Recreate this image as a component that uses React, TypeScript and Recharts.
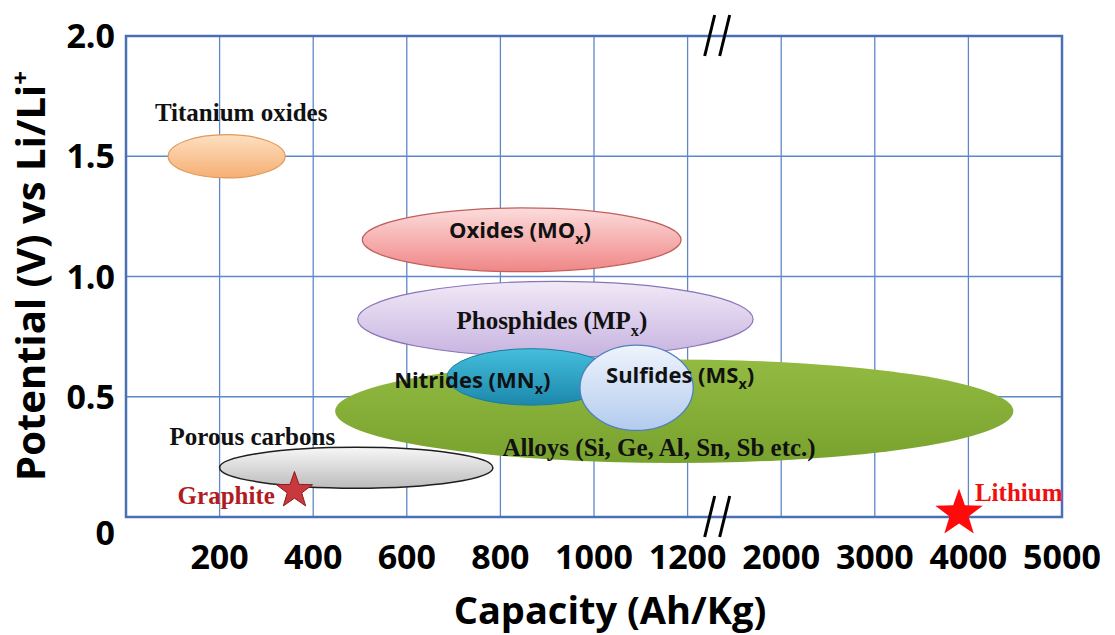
import React from "react";
import {
  ScatterChart,
  Scatter,
  XAxis,
  YAxis,
  CartesianGrid,
  ReferenceArea,
  ReferenceDot,
  Label
} from "recharts";

// axis ticks (capacity axis is broken after 1200)
const capacityTicks = [0, 200, 400, 600, 800, 1000, 1200, 2000, 3000, 4000, 5000];
const potentialTicks = [0, 0.5, 1.0, 1.5, 2.0];
const breakCapacity = 1440;

// material regions, drawn in this order
const regionNames = ["Titanium oxides", "Oxides", "Phosphides", "Alloys", "Porous carbons", "Nitrides", "Sulfides"];
const regionCapMin = [90, 505, 495, 447, 200, 686, 970];
const regionCapMax = [340, 1186, 1760, 4480, 784, 1045, 1248];
const regionVMin = [1.41, 1.02, 0.665, 0.225, 0.12, 0.465, 0.36];
const regionVMax = [1.59, 1.285, 0.98, 0.655, 0.29, 0.7, 0.715];

// reference electrodes
const starNames = ["Graphite", "Lithium"];
const starCap = [360, 3900];
const starV = [0.11, 0.015];

// text labels ("_" marks a subscript letter)
const labelTexts = [
  "Titanium oxides",
  "Porous carbons",
  "Graphite",
  "Lithium",
  "Oxides (MO_x)",
  "Phosphides (MP_x)",
  "Nitrides (MN_x)",
  "Sulfides (MS_x)",
  "Alloys (Si, Ge, Al, Sn, Sb etc.)"
];
const labelCap = [246, 270, 318, 4070, 842, 910, 740, 1184, 1139];
const labelV = [1.684, 0.337, 0.09, 0.104, 1.193, 0.819, 0.57, 0.59, 0.291];

const toPos = (cap: number) => {
  if (cap <= 1200) return cap / 200;
  if (cap <= 2000) return 6 + (cap - 1200) / 800;
  return 7 + (cap - 2000) / 1000;
};

const SANS = "'Open Sans', 'DejaVu Sans', sans-serif";
const SERIF = "'Liberation Serif', 'Times New Roman', serif";

const regionStyle: Record<string, any> = {
  "Titanium oxides": { top: "#fde0c2", bottom: "#f6ae72", stroke: "#e09a5a", sw: 1.2 },
  Oxides: { top: "#fcdcdc", bottom: "#f08686", stroke: "#c0605c", sw: 1.2 },
  Phosphides: { top: "#f1e9f7", bottom: "#c7b3e0", stroke: "#8a74b8", sw: 1.2 },
  Alloys: { top: "#93bb42", bottom: "#78a22e", stroke: "none", sw: 0 },
  "Porous carbons": { top: "#f7f7f7", bottom: "#bcbcbc", stroke: "#1e1e1e", sw: 1.5 },
  Nitrides: { top: "#45bedc", bottom: "#1c88ab", stroke: "#1b7da0", sw: 1 },
  Sulfides: { top: "#eef4fc", bottom: "#b3cbee", stroke: "#4f7fc0", sw: 1.3 }
};

const labelStyle: Record<string, any> = {
  "Titanium oxides": { font: SERIF, size: 25, color: "#111", anchor: "middle" },
  "Porous carbons": { font: SERIF, size: 25, color: "#111", anchor: "middle" },
  Graphite: { font: SERIF, size: 25, color: "#b01c22", anchor: "end" },
  Lithium: { font: SERIF, size: 25, color: "#f01010", anchor: "start" },
  "Oxides (MO_x)": { font: SANS, size: 22, color: "#111", anchor: "middle" },
  "Phosphides (MP_x)": { font: SERIF, size: 25, color: "#111", anchor: "middle" },
  "Nitrides (MN_x)": { font: SANS, size: 22, color: "#111", anchor: "middle" },
  "Sulfides (MS_x)": { font: SANS, size: 22, color: "#111", anchor: "middle" },
  "Alloys (Si, Ge, Al, Sn, Sb etc.)": { font: SERIF, size: 25, color: "#111", anchor: "middle" }
};

const starStyle: Record<string, any> = {
  Graphite: { r: 19, fill: "#c8383c", stroke: "#8e1b1e" },
  Lithium: { r: 25, fill: "#ff0a0a", stroke: "none" }
};

const regionData = regionNames.map((name, i) => ({
  name,
  x1: toPos(regionCapMin[i]),
  x2: toPos(regionCapMax[i]),
  y1: regionVMin[i],
  y2: regionVMax[i]
}));
const starData = starNames.map((name, i) => ({ name, x: toPos(starCap[i]), y: starV[i] }));
const labelData = labelTexts.map((text, i) => ({ text, x: toPos(labelCap[i]), y: labelV[i] }));

function EllipseShape(props: any) {
  const { x, y, width, height, name } = props;
  const st = regionStyle[name];
  const id = "grad-" + name.replace(/\s+/g, "-");
  return (
    <g>
      <defs>
        <linearGradient id={id} x1="0" y1="0" x2="0" y2="1">
          <stop offset="0" stopColor={st.top} />
          <stop offset="1" stopColor={st.bottom} />
        </linearGradient>
      </defs>
      <ellipse
        cx={x + width / 2}
        cy={y + height / 2}
        rx={width / 2}
        ry={height / 2}
        fill={`url(#${id})`}
        stroke={st.stroke}
        strokeWidth={st.sw}
      />
    </g>
  );
}

function StarShape(props: any) {
  const { cx, cy, payload } = props;
  const st = starStyle[payload.name];
  const pts: string[] = [];
  for (let k = 0; k < 10; k++) {
    const rr = k % 2 === 0 ? st.r : st.r * 0.4;
    const a = -Math.PI / 2 + (k * Math.PI) / 5;
    pts.push(`${cx + rr * Math.cos(a)},${cy + rr * Math.sin(a)}`);
  }
  return <polygon points={pts.join(" ")} fill={st.fill} stroke={st.stroke} strokeWidth={1} />;
}

function TextShape(props: any) {
  const { cx, cy, payload } = props;
  const st = labelStyle[payload.text];
  const parts = payload.text.split("_");
  const base = cy + st.size * 0.35;
  return (
    <text
      x={cx}
      y={base}
      textAnchor={st.anchor}
      fontFamily={st.font}
      fontWeight="bold"
      fontSize={st.size}
      fill={st.color}
    >
      {parts.length === 1 ? (
        parts[0]
      ) : (
        <>
          <tspan>{parts[0]}</tspan>
          <tspan fontSize={st.size * 0.65} dy={st.size * 0.3}>
            {parts[1].charAt(0)}
          </tspan>
          <tspan dy={-st.size * 0.3}>{parts[1].slice(1)}</tspan>
        </>
      )}
    </text>
  );
}

function BreakMark(props: any) {
  const { cx, cy } = props;
  return (
    <g stroke="#000" strokeWidth={3}>
      <line x1={cx - 11} y1={cy + 20} x2={cx - 1} y2={cy - 21} />
      <line x1={cx + 4} y1={cy + 20} x2={cx + 14} y2={cy - 21} />
    </g>
  );
}

function XTick(props: any) {
  const { x, y, index } = props;
  const v = capacityTicks[index];
  if (!v) return null;
  return (
    <text x={x} y={y + 52} textAnchor="middle" fontFamily={SANS} fontWeight="bold" fontSize={34} fill="#000">
      {v}
    </text>
  );
}

function YTick(props: any) {
  const { x, y, payload } = props;
  const v = payload.value;
  const txt = v === 0 ? "0" : v.toFixed(1);
  return (
    <text
      x={x - 11}
      y={y + 12 + (v === 0 ? 16 : 0)}
      textAnchor="end"
      fontFamily={SANS}
      fontWeight="bold"
      fontSize={34}
      fill="#000"
    >
      {txt}
    </text>
  );
}

export default function App() {
  return (
    <div style={{ position: "absolute", left: 0, top: 0, background: "#fff" }}>
      <ScatterChart width={1115} height={635} margin={{ top: 36, right: 53, bottom: 18, left: 26 }}>
        <CartesianGrid stroke="#5f88c9" strokeWidth={1.3} />
        <XAxis
          type="number"
          dataKey="x"
          domain={[0, 10]}
          ticks={capacityTicks.map(toPos)}
          height={100}
          axisLine={false}
          tickLine={false}
          tickSize={0}
          tickMargin={0}
          tick={<XTick />}
          interval={0}
        >
          <Label
            content={(p: any) => (
              <text
                x={p.viewBox.x + p.viewBox.width / 2 + 16}
                y={p.viewBox.y + 107}
                textAnchor="middle"
                fontFamily={SANS}
                fontWeight="bold"
                fontSize={38}
                fill="#000"
              >
                Capacity (Ah/Kg)
              </text>
            )}
          />
        </XAxis>
        <YAxis
          type="number"
          dataKey="y"
          domain={[0, 2]}
          ticks={potentialTicks}
          width={100}
          axisLine={false}
          tickLine={false}
          tickSize={0}
          tickMargin={0}
          tick={<YTick />}
          interval={0}
        >
          <Label
            content={() => {
              const cx = 45;
              const cy = 276;
              return (
                <text
                  x={cx}
                  y={cy}
                  transform={`rotate(-90 ${cx} ${cy})`}
                  textAnchor="middle"
                  fontFamily={SANS}
                  fontWeight="bold"
                  fontSize={40}
                  fill="#000"
                >
                  Potential (V) vs Li/Li
                  <tspan fontSize={24} dy={-16}>
                    +
                  </tspan>
                </text>
              );
            }}
          />
        </YAxis>
        <ReferenceArea x1={0} x2={10} y1={0} y2={2} fill="none" stroke="#4a70b4" strokeWidth={2.5} ifOverflow="visible" />
        {regionData.map((r) => (
          <ReferenceArea
            key={r.name}
            x1={r.x1}
            x2={r.x2}
            y1={r.y1}
            y2={r.y2}
            ifOverflow="visible"
            shape={(p: any) => <EllipseShape {...p} name={r.name} />}
          />
        ))}
        <ReferenceDot x={toPos(breakCapacity)} y={2} r={0} ifOverflow="visible" shape={(p: any) => <BreakMark {...p} />} />
        <ReferenceDot x={toPos(breakCapacity)} y={0} r={0} ifOverflow="visible" shape={(p: any) => <BreakMark {...p} />} />
        <Scatter data={labelData} shape={(p: any) => <TextShape {...p} />} isAnimationActive={false} />
        <Scatter data={starData} shape={(p: any) => <StarShape {...p} />} isAnimationActive={false} />
      </ScatterChart>
    </div>
  );
}
